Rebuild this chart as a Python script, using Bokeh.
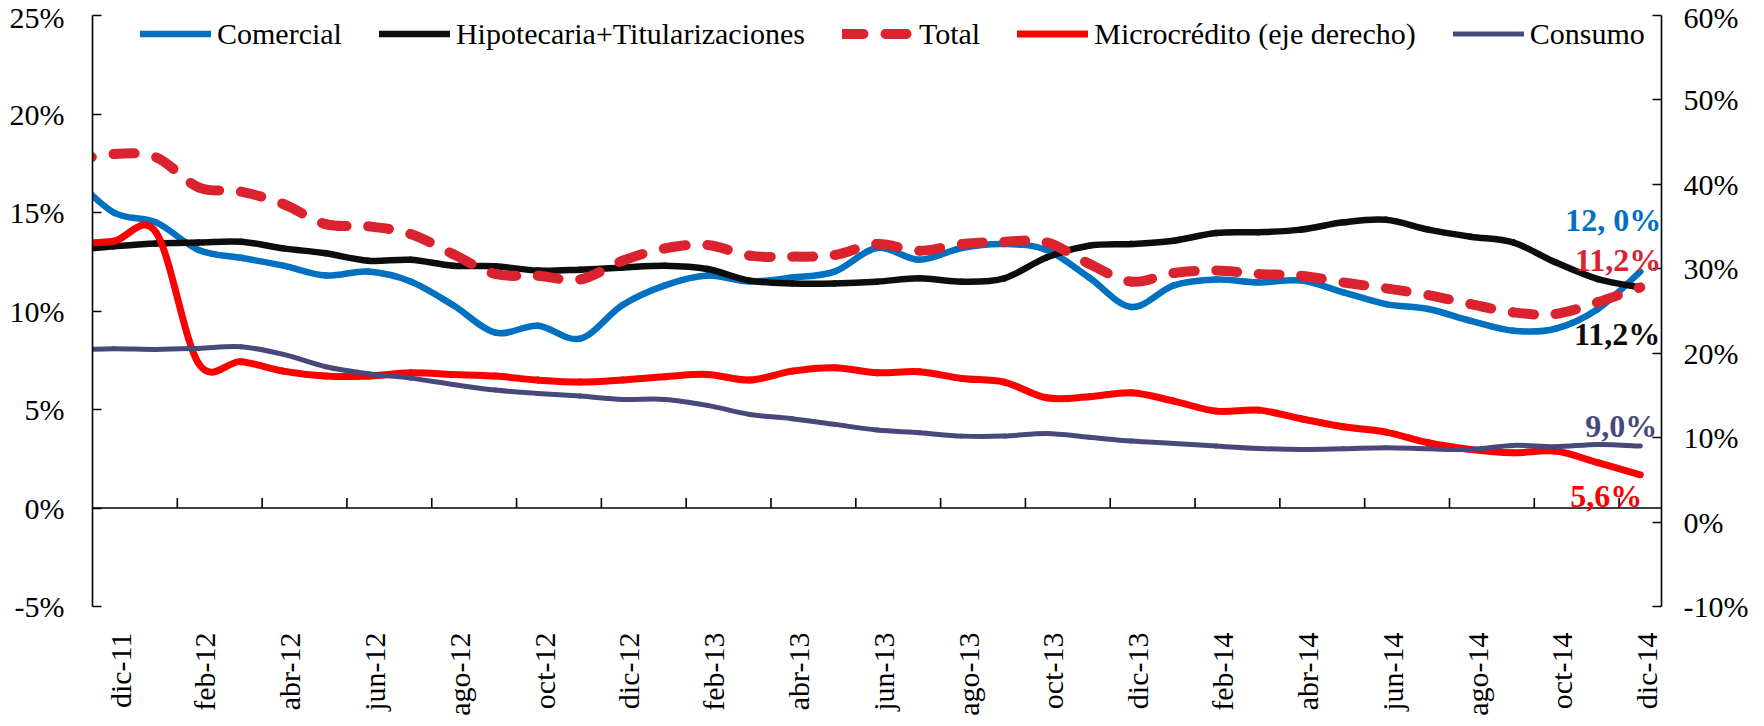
import math
from bokeh.plotting import figure
from bokeh.models import (Range1d, LinearAxis, FixedTicker, Span, Legend, LegendItem,
                          Label, ColumnDataSource)
from bokeh.embed import file_html
from bokeh.resources import INLINE

# ---------------- data (monthly, nov-11 .. dic-14; nov-11 lies just left of the axis) -------------
meses = ["nov-11", "dic-11",
         "ene-12", "feb-12", "mar-12", "abr-12", "may-12", "jun-12", "jul-12", "ago-12", "sep-12", "oct-12", "nov-12", "dic-12",
         "ene-13", "feb-13", "mar-13", "abr-13", "may-13", "jun-13", "jul-13", "ago-13", "sep-13", "oct-13", "nov-13", "dic-13",
         "ene-14", "feb-14", "mar-14", "abr-14", "may-14", "jun-14", "jul-14", "ago-14", "sep-14", "oct-14", "nov-14", "dic-14"]

comercial = [16.9, 15.0, 14.5, 13.1, 12.7, 12.3, 11.8, 12.0, 11.5, 10.3, 8.9, 9.25, 8.6,
             10.3, 11.3, 11.8, 11.5, 11.7, 12.0, 13.2, 12.6, 13.2, 13.4, 13.1, 11.7, 10.2,
             11.3, 11.6, 11.45, 11.55, 10.95, 10.35, 10.1, 9.5, 9.0, 9.1, 10.1, 12.0]
hipotecaria = [13.1, 13.28, 13.43, 13.48, 13.52, 13.18, 12.93, 12.55, 12.6, 12.3, 12.27, 12.05, 12.1,
               12.21, 12.3, 12.13, 11.54, 11.4, 11.4, 11.49, 11.66, 11.49, 11.66, 12.72, 13.31, 13.4,
               13.57, 13.96, 14.0, 14.13, 14.5, 14.63, 14.13, 13.77, 13.48, 12.47, 11.62, 11.2]
total = [17.6, 17.97, 17.8, 16.28, 16.06, 15.43, 14.41, 14.3, 13.91, 12.89, 11.88, 11.79, 11.6,
         12.55, 13.18, 13.35, 12.81, 12.76, 12.84, 13.4, 13.06, 13.4, 13.52, 13.48, 12.4, 11.49,
         11.93, 12.05, 11.88, 11.79, 11.45, 11.15, 10.81, 10.35, 9.93, 9.85, 10.45, 11.2]
microcredito = [33.0, 33.27, 34.3, 18.8, 19.0, 17.88, 17.29, 17.29, 17.69, 17.49, 17.29, 16.82, 16.58,
                16.82, 17.21, 17.49, 16.82, 17.88, 18.28, 17.69, 17.8, 17.01, 16.58, 14.72, 14.84, 15.32,
                14.33, 13.14, 13.26, 12.24, 11.29, 10.66, 9.39, 8.6, 8.21, 8.41, 7.03, 5.6]
consumo = [20.4, 20.53, 20.45, 20.57, 20.76, 19.86, 18.4, 17.57, 17.05, 16.3, 15.63, 15.24, 14.92,
           14.53, 14.53, 13.82, 12.75, 12.24, 11.57, 10.9, 10.58, 10.18, 10.18, 10.5, 10.05, 9.59,
           9.32, 9.0, 8.72, 8.6, 8.68, 8.8, 8.68, 8.6, 9.08, 8.92, 9.2, 9.0]

idx = list(range(-1, len(meses) - 1))          # category index, dic-11 = 0
left_ticks = [-5, 0, 5, 10, 15, 20, 25]
right_ticks = [-10, 0, 10, 20, 30, 40, 50, 60]
label_every = 2

FONT = "Liberation Serif"
C_COM, C_HIP, C_TOT, C_MIC, C_CON = "#0070C0", "#0D0D0D", "#DA232E", "#FF0000", "#46497A"


def bezier_source(xs, ys):
    n = len(xs)
    d = dict(x0=[], y0=[], x1=[], y1=[], cx0=[], cy0=[], cx1=[], cy1=[])
    for k in range(n - 1):
        a = max(k - 1, 0)
        b = min(k + 2, n - 1)
        d["x0"].append(xs[k]); d["y0"].append(ys[k])
        d["x1"].append(xs[k + 1]); d["y1"].append(ys[k + 1])
        d["cx0"].append(xs[k] + (xs[k + 1] - xs[a]) / 6.0)
        d["cy0"].append(ys[k] + (ys[k + 1] - ys[a]) / 6.0)
        d["cx1"].append(xs[k + 1] - (xs[b] - xs[k]) / 6.0)
        d["cy1"].append(ys[k + 1] - (ys[b] - ys[k]) / 6.0)
    return ColumnDataSource(d)


p = figure(frame_width=1569, frame_height=591,
           x_range=Range1d(-0.5, len(meses) - 1.5), y_range=Range1d(-5, 25),
           output_backend="svg", toolbar_location=None,
           min_border_left=92, min_border_right=10, min_border_top=15, min_border_bottom=10)
p.extra_y_ranges = {"right": Range1d(-10, 60)}
p.xgrid.visible = False
p.ygrid.visible = False
p.outline_line_alpha = 0
p.background_fill_color = "white"
p.border_fill_color = "white"

# left axis
ya = p.yaxis[0]
ya.ticker = FixedTicker(ticks=left_ticks)
ya.major_label_overrides = {v: f"{v}%" for v in left_ticks}

ra = LinearAxis(y_range_name="right", ticker=FixedTicker(ticks=right_ticks))
ra.major_label_overrides = {v: f"{v}%" for v in right_ticks}
p.add_layout(ra, "right")

for ax, standoff in ((ya, 28), (ra, 22)):
    ax.axis_line_color = "black"
    ax.axis_line_width = 1.6
    ax.major_tick_line_color = "black"
    ax.major_tick_line_width = 1.6
    ax.major_tick_in = 9
    ax.major_tick_out = 0
    ax.minor_tick_line_alpha = 0
    ax.major_label_standoff = standoff
    ax.major_label_text_font = FONT
    ax.major_label_text_font_size = "30px"
    ax.major_label_text_color = "black"

# bottom axis: labels only (small shift so the rotated glyphs sit centred on their category)
xa = p.xaxis[0]
label_shift = 0.15
lab_cats = [i for i in idx if i >= 0 and i % label_every == 0]
lab_pos = [i + label_shift for i in lab_cats]
xa.ticker = FixedTicker(ticks=lab_pos)
xa.major_label_overrides = {pos: meses[c + 1] for pos, c in zip(lab_pos, lab_cats)}
xa.axis_line_alpha = 0
xa.major_tick_line_alpha = 0
xa.minor_tick_line_alpha = 0
xa.major_label_orientation = math.pi / 2
xa.major_label_standoff = 20
xa.major_label_text_font = FONT
xa.major_label_text_font_size = "30px"
xa.major_label_text_color = "black"

# zero line with category ticks (between tick marks, every 2 categories)
p.add_layout(Span(location=0, dimension="width", line_color="black", line_width=1.6))
px_per_unit = 591 / 30.0
tick_len = 10 / px_per_unit
tick_x = [i + 0.5 for i in range(1, len(meses) - 2, label_every)]
p.segment(x0=tick_x, y0=[0] * len(tick_x), x1=tick_x, y1=[tick_len] * len(tick_x),
          line_color="black", line_width=1.6)

# series
r_com = p.bezier(source=bezier_source(idx, comercial), x0="x0", y0="y0", x1="x1", y1="y1",
                 cx0="cx0", cy0="cy0", cx1="cx1", cy1="cy1", line_color=C_COM, line_width=6.5,
                 line_cap="round", line_join="round")
r_hip = p.bezier(source=bezier_source(idx, hipotecaria), x0="x0", y0="y0", x1="x1", y1="y1",
                 cx0="cx0", cy0="cy0", cx1="cx1", cy1="cy1", line_color=C_HIP, line_width=6.5,
                 line_cap="round", line_join="round")
r_tot = p.bezier(source=bezier_source(idx, total), x0="x0", y0="y0", x1="x1", y1="y1",
                 cx0="cx0", cy0="cy0", cx1="cx1", cy1="cy1", line_color=C_TOT, line_width=10,
                 line_dash="21 22", line_cap="round")
r_mic = p.bezier(source=bezier_source(idx, microcredito), x0="x0", y0="y0", x1="x1", y1="y1",
                 cx0="cx0", cy0="cy0", cx1="cx1", cy1="cy1", line_color=C_MIC, line_width=7,
                 line_cap="round", y_range_name="right")
r_con = p.bezier(source=bezier_source(idx, consumo), x0="x0", y0="y0", x1="x1", y1="y1",
                 cx0="cx0", cy0="cy0", cx1="cx1", cy1="cy1", line_color=C_CON, line_width=5,
                 line_cap="round", y_range_name="right")

legend = Legend(items=[
    LegendItem(label="Comercial", renderers=[r_com]),
    LegendItem(label="Hipotecaria+Titularizaciones", renderers=[r_hip]),
    LegendItem(label="Total", renderers=[r_tot]),
    LegendItem(label="Microcrédito (eje derecho)", renderers=[r_mic]),
    LegendItem(label="Consumo", renderers=[r_con]),
], orientation="horizontal", location=(48, 555))
legend.padding = 0
legend.margin = 0
legend.spacing = 37
legend.glyph_width = 71
legend.glyph_height = 35
legend.label_height = 35
legend.label_standoff = 6
legend.label_text_font = FONT
legend.label_text_font_size = "30px"
legend.label_text_color = "black"
legend.border_line_alpha = 0
legend.background_fill_alpha = 0
p.add_layout(legend)

# end-of-series labels
last = len(idx) - 1
def end_label(text, val, color, dx, dy, rng="default"):
    lab = Label(x=idx[last], y=val, text=text, x_offset=dx, y_offset=dy,
                text_align="right", text_baseline="middle", text_font=FONT,
                text_font_style="bold", text_font_size="32px", text_color=color,
                y_range_name=rng)
    p.add_layout(lab)

end_label("12, 0%", comercial[last], C_COM, 21, 52)
end_label("11,2%", total[last], C_TOT, 21, 27)
end_label("11,2%", hipotecaria[last], C_HIP, 20, -47)
end_label("9,0%", consumo[last], C_CON, 17, 20, "right")
end_label("5,6%", microcredito[last], C_MIC, 2, -21, "right")

open("out.html", "w").write(file_html(p, INLINE))
